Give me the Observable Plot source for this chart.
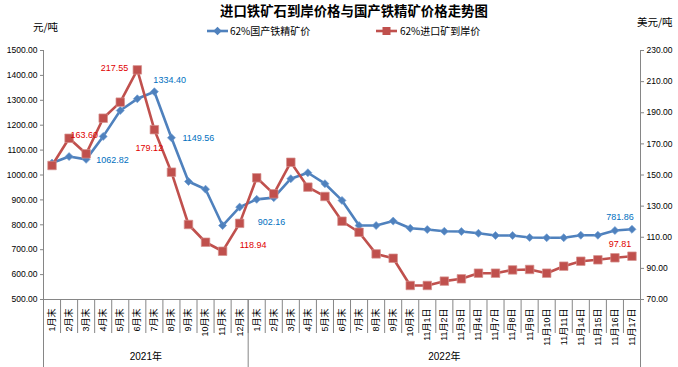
<!DOCTYPE html>
<html><head><meta charset="utf-8">
<script src="https://cdn.jsdelivr.net/npm/d3@7"></script>
<script src="https://cdn.jsdelivr.net/npm/@observablehq/plot@0.6"></script>
<style>
body{margin:0;background:#fff;}
#wrap{position:relative;width:678px;height:367px;font-family:"Liberation Sans","Noto Sans CJK SC",sans-serif;color:#000;}
#chart{position:absolute;left:0;top:0;}
.abs{position:absolute;white-space:nowrap;line-height:1.2;}
.cjk{font-family:"Noto Sans CJK SC","Liberation Sans",sans-serif;}
.leg{display:flex;align-items:center;font-size:10px;}
</style></head><body>
<div id="wrap">
  <div id="chart"></div>
  <div class="abs cjk" id="title" style="left:220px;top:2px;font-size:13.4px;font-weight:bold;"></div>
  <div class="abs cjk" id="unitL" style="left:33px;top:21px;font-size:10.5px;"></div>
  <div class="abs cjk" id="unitR" style="left:637px;top:16px;font-size:10.5px;"></div>
  <div class="abs leg" id="leg1" style="left:207px;top:25px;"></div>
  <div class="abs leg" id="leg2" style="left:376px;top:25px;"></div>
</div>
<script>
const titleText = "进口铁矿石到岸价格与国产铁精矿价格走势图";
const unitLeft = "元/吨";
const unitRight = "美元/吨";
const seriesNames = ["62%国产铁精矿价", "62%进口矿到岸价"];
const xLabels = ["1月末","2月末","3月末","4月末","5月末","6月末","7月末","8月末","9月末","10月末","11月末","12月末",
  "1月末","2月末","3月末","4月末","5月末","6月末","7月末","8月末","9月末","10月末",
  "11月1日","11月2日","11月3日","11月4日","11月7日","11月8日","11月9日","11月10日","11月11日","11月14日","11月15日","11月16日","11月17日"];
const years = ["2021年", "2022年"];
const yearStarts = [0, 12, 35];
const domestic = [1048,1074,1062.82,1155,1259,1306,1334.40,1149.56,974,943,797,871,
  902.16,909,985,1009,965,898,797,797,815,786,
  781,774,773,766,757,757,749,748,748,758,758,777,781.86];
const imported = [156.1,173.6,163.60,186.5,196.8,217.55,179.12,151.8,118.2,106.8,101.0,118.94,
  148.2,137.9,158.2,142.2,136.2,120.3,113.2,99.3,96.5,79.0,
  79.0,81.8,83.3,86.9,86.9,89.0,89.3,86.9,91.4,94.6,95.5,96.8,97.81];
const leftTicks = d3.range(500, 1501, 100);
const rightTicks = d3.range(70, 231, 20);
const domesticLabelIdx = [2, 6, 7, 12, 34];
const importedLabelIdx = [2, 5, 6, 11, 34];

// layout (not data)
const BLUE = "#4F81BD", RED = "#C0504D", BLUE_T = "#0070C0", RED_T = "#E00000", AX = "#868686";
const blueLayout = {2:{dx:10,dy:1,a:"start"},6:{dx:-1,dy:-12,a:"start"},7:{dx:11,dy:0,a:"start"},12:{dx:1,dy:23,a:"start"},34:{dx:-12,dy:-12,a:"middle"}};
const redLayout = {2:{dx:-2,dy:-19,a:"middle"},5:{dx:-9,dy:-2,a:"end"},6:{dx:-5,dy:18,a:"middle"},11:{dx:0,dy:22,a:"start"},34:{dx:-12,dy:-12,a:"middle"}};

// right axis (USD) mapped onto left axis (CNY) scale
const rMin = 70, rMax = 230, lMin = 500, lMax = 1500;
const toLeft = v => lMin + (v - rMin) * (lMax - lMin) / (rMax - rMin);
const fromLeft = v => rMin + (v - lMin) * (rMax - rMin) / (lMax - lMin);

const idx = d3.range(xLabels.length);
const xc = i => i + 0.5;
const yearCenters = years.map((y, k) => (yearStarts[k] + yearStarts[k + 1]) / 2);
const font = "Liberation Sans, Noto Sans CJK SC, sans-serif";

const marks = [
  Plot.frame({anchor: "left", stroke: AX}),
  Plot.frame({anchor: "right", stroke: AX}),
  Plot.frame({anchor: "bottom", stroke: AX}),
  Plot.axisY(leftTicks, {anchor: "left", tickSize: 3, tickPadding: 3, tickFormat: d => d.toFixed(2), stroke: AX, fontSize: 8.5, label: null}),
  Plot.axisY(rightTicks.map(toLeft), {anchor: "right", tickSize: 3, tickPadding: 3, tickFormat: d => fromLeft(d).toFixed(2), stroke: AX, fontSize: 8.5, label: null}),
  Plot.axisX(d3.range(0, xLabels.length + 1), {tickSize: 34, tickFormat: () => "", stroke: AX, label: null}),
  Plot.axisX(yearStarts, {tickSize: 68, tickFormat: () => "", stroke: AX, label: null}),
  Plot.axisX(idx.map(xc), {tickSize: 0, tickPadding: 9, tickRotate: -90, tickFormat: d => xLabels[Math.floor(d)], fontSize: 9, label: null}),
  Plot.axisX(yearCenters, {tickSize: 0, tickPadding: 53, tickFormat: d => years[yearCenters.indexOf(d)], fontSize: 10, label: null}),
  Plot.line(idx, {x: xc, y: i => domestic[i], stroke: BLUE, strokeWidth: 2.6}),
  Plot.dot(idx, {x: xc, y: i => domestic[i], symbol: "square", rotate: 45, r: 3.2, fill: BLUE, stroke: "#6C9BD2", strokeWidth: 0.6}),
  Plot.line(idx, {x: xc, y: i => toLeft(imported[i]), stroke: RED, strokeWidth: 2.6}),
  Plot.dot(idx, {x: xc, y: i => toLeft(imported[i]), symbol: "square", r: 4.8, fill: RED, stroke: "#D6908E", strokeWidth: 0.7}),
  ...domesticLabelIdx.map(i => Plot.text([i], {x: xc, y: i => domestic[i], text: i => domestic[i].toFixed(2),
     dx: blueLayout[i].dx, dy: blueLayout[i].dy, textAnchor: blueLayout[i].a, fill: BLUE_T, fontSize: 9})),
  ...importedLabelIdx.map(i => Plot.text([i], {x: xc, y: i => toLeft(imported[i]), text: i => imported[i].toFixed(2),
     dx: redLayout[i].dx, dy: redLayout[i].dy, textAnchor: redLayout[i].a, fill: RED_T, fontSize: 9}))
];

const chart = Plot.plot({
  width: 678, height: 367,
  marginTop: 50, marginBottom: 68, marginLeft: 43, marginRight: 38,
  x: {type: "linear", domain: [0, xLabels.length]},
  y: {domain: [lMin, lMax]},
  style: {fontFamily: font, fontSize: "9px", color: "#000", background: "#fff", overflow: "visible"},
  marks
});
document.getElementById("chart").appendChild(chart);

document.getElementById("title").textContent = titleText;
document.getElementById("unitL").textContent = unitLeft;
document.getElementById("unitR").textContent = unitRight;
const legSvg1 = `<svg width="21" height="10" style="margin-right:2px"><line x1="0" y1="5" x2="21" y2="5" stroke="${BLUE}" stroke-width="2.6"/><rect x="7.5" y="2" width="6" height="6" fill="${BLUE}" transform="rotate(45 10.5 5)"/></svg>`;
const legSvg2 = `<svg width="21" height="10" style="margin-right:3px"><line x1="0" y1="5" x2="21" y2="5" stroke="${RED}" stroke-width="2.6"/><rect x="6.5" y="1" width="8" height="8" fill="${RED}"/></svg>`;
document.getElementById("leg1").innerHTML = legSvg1 + `<span class="cjk">${seriesNames[0]}</span>`;
document.getElementById("leg2").innerHTML = legSvg2 + `<span class="cjk">${seriesNames[1]}</span>`;
</script>
</body></html>
